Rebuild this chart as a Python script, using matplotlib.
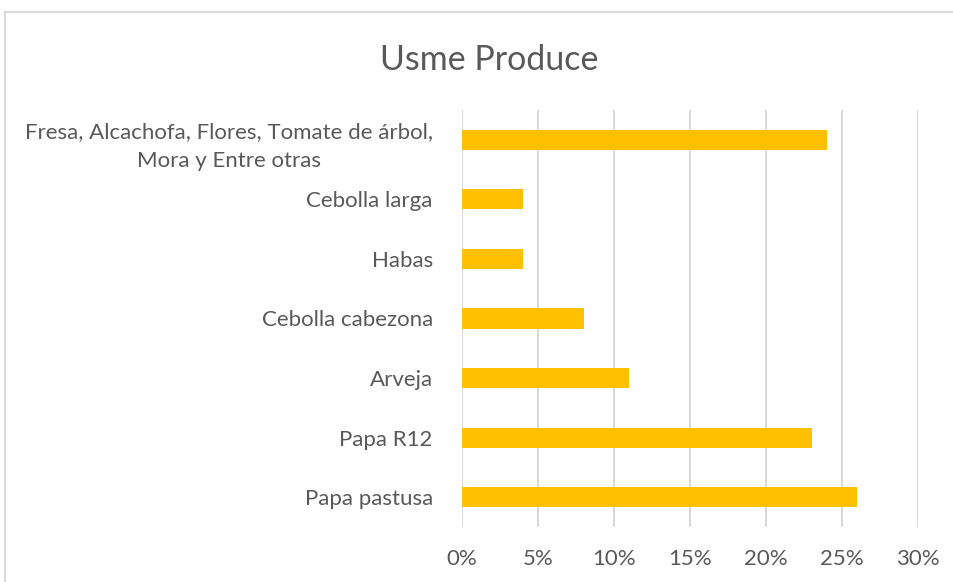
import matplotlib
matplotlib.use("Agg")
import matplotlib.pyplot as plt
from matplotlib.patches import Rectangle

categories = ["Papa pastusa", "Papa R12", "Arveja", "Cebolla cabezona", "Habas",
              "Cebolla larga", "Fresa, Alcachofa, Flores, Tomate de árbol,\nMora y Entre otras"]
values = [0.26, 0.23, 0.11, 0.08, 0.04, 0.04, 0.24]
xticks = [0, 0.05, 0.10, 0.15, 0.20, 0.25, 0.30]
xtick_labels = ["0%", "5%", "10%", "15%", "20%", "25%", "30%"]
title = "Usme Produce"

plt.rcParams['font.family'] = ['Lato', 'DejaVu Sans']
fig = plt.figure(figsize=(9.54, 5.82), dpi=100)
fig.patches.append(Rectangle((5/954, -0.1), 1.2, 1 - 12/582 + 0.1, transform=fig.transFigure,
                             fill=False, edgecolor="#d9d9d9", linewidth=1.5))

ax = fig.add_axes([462/954, 55/582, (918-462)/954, (527-110)/582])
ypos = list(range(len(categories)))
ax.barh(ypos, values, height=0.34, color="#FFC000", zorder=3)
ax.set_xlim(0, 0.30)
ax.set_ylim(-0.5, 6.5)
ax.set_xticks(xticks)
ax.set_xticklabels(xtick_labels)
ax.set_yticks(ypos)
ax.set_yticklabels(categories, multialignment='center', linespacing=1.6)
for s in ax.spines.values():
    s.set_visible(False)
ax.grid(axis='x', color="#d9d9d9", linewidth=1.5, zorder=0)
ax.tick_params(axis='both', length=0, colors="#595959", labelsize=16)
ax.tick_params(axis='y', pad=21)
ax.tick_params(axis='x', pad=16)
fig.text(489/954, 1 - 60/582, title, ha='center', va='center', fontsize=24.5, color="#595959")
fig.savefig("out.png", dpi=100)
